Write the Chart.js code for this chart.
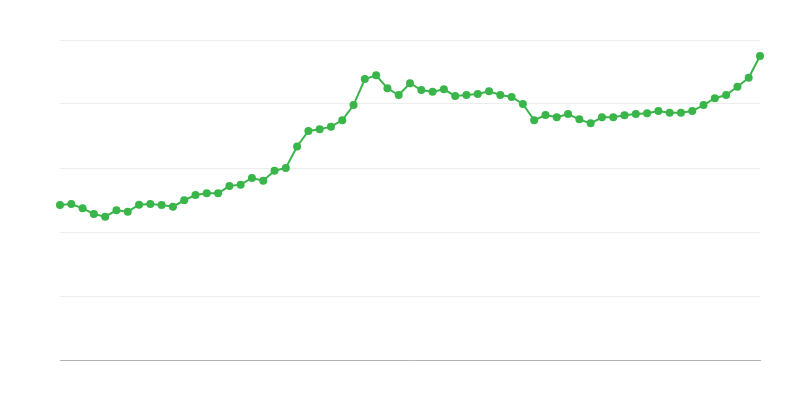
<!DOCTYPE html>
<html>
<head>
<meta charset="utf-8">
<script src="https://cdn.jsdelivr.net/npm/chart.js@4"></script>
<style>
html,body{margin:0;padding:0;background:#fff;}
#wrap{width:800px;height:400px;}
</style>
</head>
<body>
<div id="wrap"><canvas id="c" width="800" height="400"></canvas></div>
<script>
const labels = Array.from({length: 63}, (_, i) => String(i + 1));
const values = [121.1,121.9,118.5,114.1,112.0,116.9,115.9,121.3,121.9,121.1,
  119.8,124.8,128.9,130.2,130.2,135.9,137.0,142.2,140.1,147.9,
  150.0,166.8,178.9,180.2,182.3,187.3,199.2,219.5,222.4,212.3,
  207.0,216.2,210.9,209.6,211.5,206.3,207.0,207.8,209.9,207.0,
  205.5,200.0,187.3,191.4,189.6,192.2,188.0,184.9,189.6,189.6,
  191.2,192.2,192.7,194.5,193.2,193.2,194.5,199.2,204.5,207.0,
  213.5,220.5,237.5];
const yMin = 0, yMax = 250, yStep = 50;

new Chart(document.getElementById('c'), {
  type: 'line',
  data: {
    labels: labels,
    datasets: [{
      data: values,
      borderColor: '#39b54a',
      backgroundColor: '#39b54a',
      borderWidth: 2,
      pointRadius: 4,
      pointHoverRadius: 4,
      pointBorderWidth: 0,
      tension: 0,
      fill: false
    }]
  },
  options: {
    responsive: false,
    animation: false,
    layout: {padding: {left: 60, right: 40, top: 40, bottom: 40}},
    plugins: {legend: {display: false}, tooltip: {enabled: false}},
    scales: {
      x: {
        grid: {display: false, drawTicks: false},
        border: {display: true, color: '#b3b3b3', width: 1},
        ticks: {display: false}
      },
      y: {
        min: yMin, max: yMax,
        grid: {color: '#ececec', drawTicks: false},
        border: {display: false},
        ticks: {display: false, stepSize: yStep}
      }
    }
  }
});
</script>
</body>
</html>
